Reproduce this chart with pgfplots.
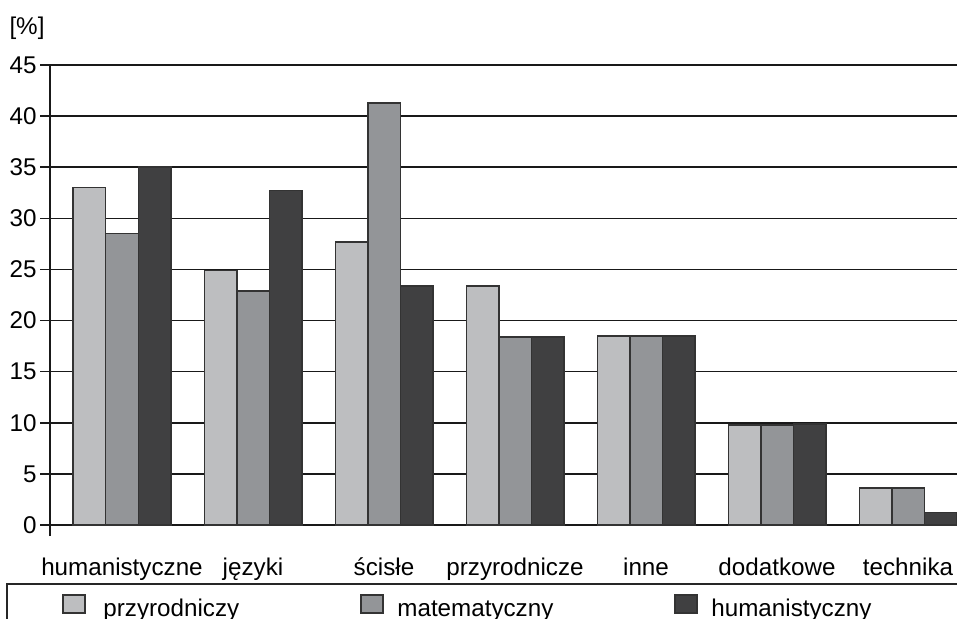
\documentclass[border=0pt]{standalone}
\usepackage{fontspec}
\setmainfont{Liberation Sans}
\usepackage{pgfplots}
\pgfplotsset{compat=1.18}

\definecolor{barlight}{HTML}{BDBEC0}
\definecolor{barmid}{HTML}{939598}
\definecolor{bardark}{HTML}{404041}
\definecolor{edge}{HTML}{333333}

\begin{document}
\fontsize{12.1}{14.5}\selectfont
\begin{tikzpicture}
\begin{axis}[
    at={(0,0)}, anchor=south west,
    scale only axis,
    width=453.5pt, height=235.5pt,
    xmin=-0.5496, xmax=6.374,
    ymin=-1.076, ymax=45,
    ybar=0pt, bar width=16.25pt,
    axis lines*=left,
    x axis line style={draw=none},
    y axis line style={line width=0.75pt, color=black!90},
    xtick={0,1,2,3,4,5,6},
    xticklabels={humanistyczne, języki, ścisłe, przyrodnicze, inne, dodatkowe, technika},
    xtick style={draw=none},
    xticklabel style={anchor=base, yshift=-14.5pt},
    ytick={0,5,...,45},
    tick align=outside,
    major tick length=5pt,
    ytick style={line width=0.75pt, color=black!90},
    yticklabel style={anchor=east, inner sep=0pt, xshift=-1.5pt},
    /pgf/number format/assume math mode=true,
    ymajorgrids=true,
    grid style={line width=0.75pt, color=black!90},
    tick label style={font=\fontsize{12.1}{14.5}\selectfont},
    clip=false,
]
\addplot[fill=barlight, draw=edge, line width=0.75pt] coordinates {
    (0,33.0) (1,24.9) (2,27.7) (3,23.4) (4,18.5) (5,9.8) (6,3.6)
};
\addplot[fill=barmid, draw=edge, line width=0.75pt] coordinates {
    (0,28.5) (1,22.9) (2,41.3) (3,18.4) (4,18.5) (5,9.8) (6,3.6)
};
\addplot[fill=bardark, draw=edge, line width=0.75pt] coordinates {
    (0,35.0) (1,32.7) (2,23.4) (3,18.4) (4,18.5) (5,9.9) (6,1.2)
};
\end{axis}

% legend: outer frame, cut by the page edge as in the original
\draw[line width=0.75pt, color=black!85] (-21.5pt,-60pt) -- (-21.5pt,-24pt) -- (480pt,-24pt);
\begin{scope}[every node/.style={anchor=base west, inner sep=0pt}]
  \fill[barlight, draw=edge, line width=0.75pt] (6.5pt,-38.5pt) rectangle (17.5pt,-29.5pt);
  \node at (26.5pt,-40pt) {przyrodniczy};
  \fill[barmid, draw=edge, line width=0.75pt] (155.5pt,-38.5pt) rectangle (166.5pt,-29.5pt);
  \node at (173.5pt,-40pt) {matematyczny};
  \fill[bardark, draw=edge, line width=0.75pt] (312.5pt,-38.5pt) rectangle (323.5pt,-29.5pt);
  \node at (330.5pt,-40pt) {humanistyczny};
\end{scope}

\node[anchor=center, inner sep=0pt] at (-11.5pt,254pt) {[\%]};

\pgfresetboundingbox
\path[use as bounding box] (-25pt,-41pt) rectangle (453.5pt,268pt);
\end{tikzpicture}
\end{document}
